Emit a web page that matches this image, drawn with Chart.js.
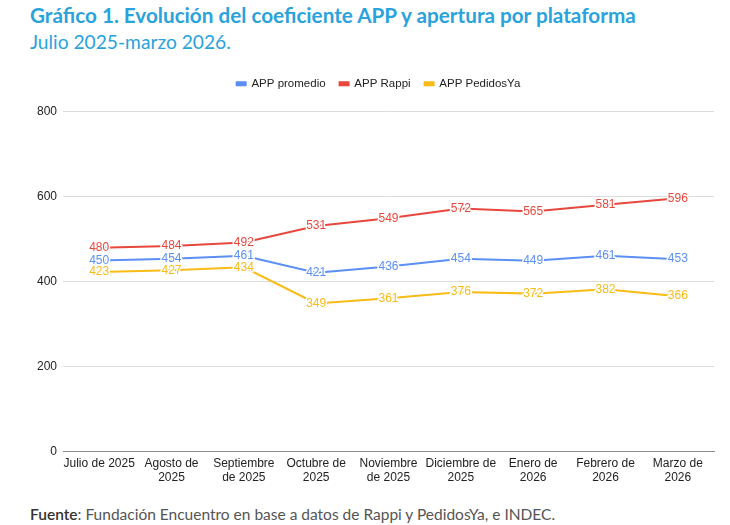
<!DOCTYPE html>
<html>
<head>
<meta charset="utf-8">
<script src="https://cdn.jsdelivr.net/npm/chart.js@4"></script>
<style>
  body { margin: 0; background: #fff; width: 730px; height: 525px; overflow: hidden; position: relative; font-family: Lato, "Noto Sans", sans-serif; }
  .title { position: absolute; left: 30px; top: 3px; font-size: 20.7px; font-weight: 700; color: #2aa2dc; white-space: nowrap; }
  .subtitle { position: absolute; left: 30px; top: 30px; font-size: 19.2px; color: #2aa2dc; white-space: nowrap; }
  .source { position: absolute; left: 30px; top: 505px; font-size: 15.5px; color: #555; white-space: nowrap; }
  .source b { font-weight: 600; color: #333; }
  #wrap { position: absolute; left: 0; top: 60px; width: 730px; height: 430px; }
</style>
</head>
<body>
<div class="title">Gráfico 1. Evolución del coeficiente APP y apertura por plataforma</div>
<div class="subtitle">Julio 2025-marzo 2026.</div>
<div id="wrap"><canvas id="chart"></canvas></div>
<div class="source"><b>Fuente</b>: Fundación Encuentro en base a datos de Rappi y PedidosYa, e INDEC.</div>
<script>
const months = [
    ['Julio de 2025'], ['Agosto de', '2025'], ['Septiembre', 'de 2025'],
    ['Octubre de', '2025'], ['Noviembre', 'de 2025'], ['Diciembre de', '2025'],
    ['Enero de', '2026'], ['Febrero de', '2026'], ['Marzo de', '2026']
];
const appPromedio = [450, 454, 461, 421, 436, 454, 449, 461, 453];
const appRappi = [480, 484, 492, 531, 549, 572, 565, 581, 596];
const appPedidosYa = [423, 427, 434, 349, 361, 376, 372, 382, 366];
const yTicks = [0, 200, 400, 600, 800];

const BLUE = '#5b8ff5', RED = '#e8473d', YELLOW = '#f9bb16';
const FONT = '"Liberation Sans", Arial, sans-serif';

// value labels sit on the points with a white halo
const pointLabels = {
    id: 'pointLabels',
    afterDatasetsDraw(chart) {
        const ctx = chart.ctx;
        ctx.save();
        ctx.font = '12px ' + FONT;
        ctx.textAlign = 'center';
        ctx.textBaseline = 'middle';
        ctx.lineJoin = 'round';
        chart.data.datasets.forEach((ds, i) => {
            chart.getDatasetMeta(i).data.forEach((pt, j) => {
                ctx.strokeStyle = '#fff';
                ctx.lineWidth = 3;
                ctx.strokeText(ds.data[j], pt.x, pt.y);
                ctx.fillStyle = ds.borderColor;
                ctx.fillText(ds.data[j], pt.x, pt.y);
            });
        });
        ctx.restore();
    }
};

// extra room under the legend, and nudge it a bit to the right
const legendGap = {
    id: 'legendGap',
    beforeInit(chart) {
        const fit = chart.legend.fit;
        chart.legend.fit = function () {
            fit.bind(chart.legend)();
            this.height += 12;
        };
    },
    afterLayout(chart) {
        chart.legend.left += 6;
        chart.legend.right += 6;
    }
};

const lineDs = (label, data, color) => ({
    label: label,
    data: data,
    borderColor: color,
    backgroundColor: color,
    borderWidth: 2,
    pointRadius: 0,
    tension: 0
});

new Chart(document.getElementById('chart'), {
    type: 'line',
    data: {
        labels: months,
        datasets: [
            lineDs('APP promedio', appPromedio, BLUE),
            lineDs('APP Rappi', appRappi, RED),
            lineDs('APP PedidosYa', appPedidosYa, YELLOW)
        ]
    },
    options: {
        responsive: true,
        maintainAspectRatio: false,
        animation: false,
        layout: { padding: { left: 31, right: 16, top: 4, bottom: 0 } },
        plugins: {
            legend: {
                position: 'top',
                labels: {
                    boxWidth: 9, boxHeight: 3, padding: 14,
                    color: '#222',
                    font: { family: FONT, size: 11.5 }
                }
            },
            tooltip: { enabled: false }
        },
        scales: {
            x: {
                offset: true,
                grid: { display: false, drawTicks: false },
                border: { color: '#8c8c8c' },
                ticks: {
                    color: '#222', maxRotation: 0, autoSkip: false, padding: 5,
                    font: { family: FONT, size: 12, lineHeight: 1.17 }
                }
            },
            y: {
                min: 0, max: 800,
                afterBuildTicks: (axis) => { axis.ticks = yTicks.map(v => ({ value: v })); },
                grid: { color: '#dcdcdc', drawTicks: false },
                border: { display: false },
                ticks: {
                    color: '#222', padding: 6,
                    font: { family: FONT, size: 12 }
                }
            }
        }
    },
    plugins: [pointLabels, legendGap]
});
</script>
</body>
</html>
